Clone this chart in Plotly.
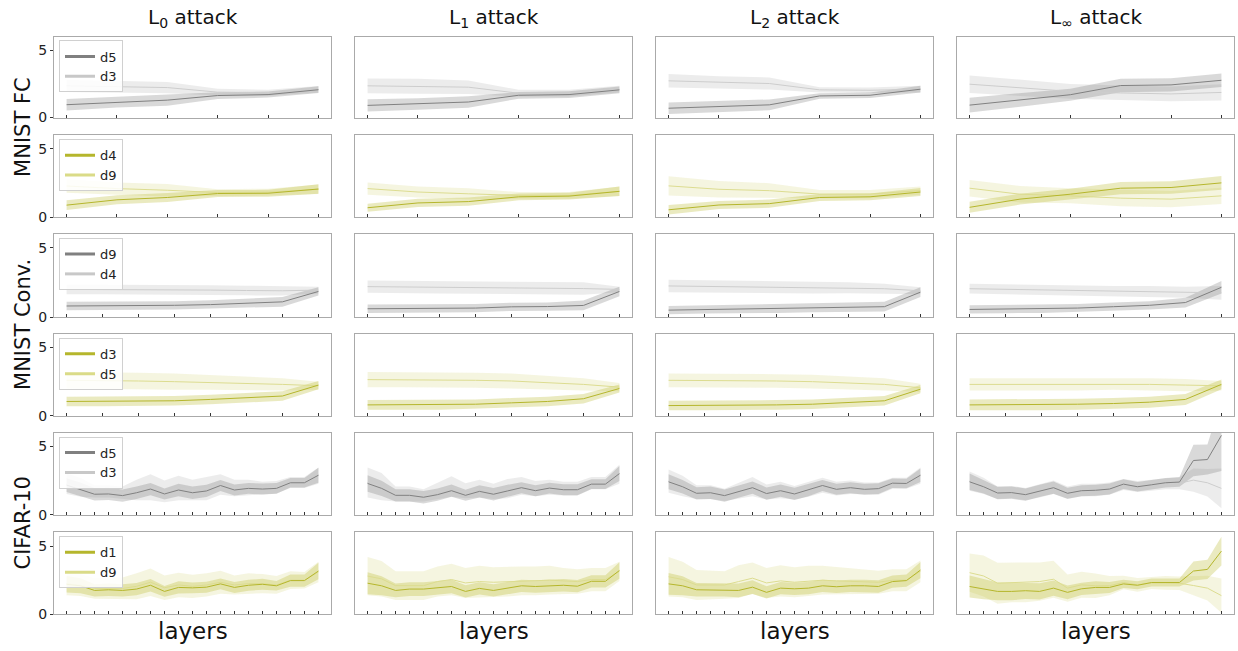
import plotly.graph_objects as go
from plotly.subplots import make_subplots

# ---------------- labels ----------------
ATTACKS = ["L<sub>0</sub> attack", "L<sub>1</sub> attack", "L<sub>2</sub> attack", "L<sub>∞</sub> attack"]
DATASETS = ["MNIST FC", "MNIST Conv.", "CIFAR-10"]
SERIES_NAMES = [("d5", "d3"), ("d4", "d9"), ("d9", "d4"), ("d3", "d5"), ("d5", "d3"), ("d1", "d9")]
N_LAYERS = [6, 6, 8, 8, 19, 19]
Y_TICKS = [0, 5]

# ---------------- row 1 : MNIST FC (d5 / d3) ----------------
R1_L0_A = [0.95, 1.14, 1.29, 1.63, 1.70, 2.06]
R1_L0_A_ERR = [0.42, 0.40, 0.42, 0.25, 0.22, 0.25]
R1_L0_B = [2.35, 2.28, 2.22, 1.88, 1.84, 2.08]
R1_L0_B_ERR = [0.45, 0.45, 0.42, 0.25, 0.22, 0.25]
R1_L1_A = [0.90, 1.00, 1.15, 1.65, 1.70, 2.05]
R1_L1_A_ERR = [0.45, 0.42, 0.42, 0.25, 0.25, 0.25]
R1_L1_B = [2.35, 2.32, 2.25, 1.80, 1.80, 2.10]
R1_L1_B_ERR = [0.55, 0.55, 0.50, 0.25, 0.25, 0.25]
R1_L2_A = [0.69, 0.81, 0.94, 1.60, 1.65, 2.10]
R1_L2_A_ERR = [0.43, 0.40, 0.40, 0.20, 0.20, 0.25]
R1_L2_B = [2.72, 2.60, 2.52, 2.05, 2.02, 2.10]
R1_L2_B_ERR = [0.50, 0.45, 0.45, 0.20, 0.20, 0.25]
R1_LI_A = [0.92, 1.31, 1.69, 2.37, 2.42, 2.76]
R1_LI_A_ERR = [0.55, 0.50, 0.45, 0.50, 0.50, 0.50]
R1_LI_B = [2.47, 2.20, 1.94, 1.82, 1.75, 1.86]
R1_LI_B_ERR = [0.65, 0.60, 0.55, 0.55, 0.55, 0.60]

# ---------------- row 2 : MNIST FC (d4 / d9) ----------------
R2_L0_A = [0.89, 1.28, 1.45, 1.74, 1.76, 2.07]
R2_L0_A_ERR = [0.35, 0.33, 0.33, 0.25, 0.25, 0.35]
R2_L0_B = [2.29, 2.10, 1.98, 1.81, 1.84, 2.05]
R2_L0_B_ERR = [0.50, 0.45, 0.45, 0.25, 0.25, 0.35]
R2_L1_A = [0.70, 1.05, 1.15, 1.50, 1.55, 1.90]
R2_L1_A_ERR = [0.30, 0.30, 0.30, 0.25, 0.25, 0.35]
R2_L1_B = [2.10, 1.85, 1.72, 1.60, 1.60, 1.90]
R2_L1_B_ERR = [0.45, 0.40, 0.40, 0.25, 0.25, 0.35]
R2_L2_A = [0.55, 0.90, 1.00, 1.45, 1.50, 1.85]
R2_L2_A_ERR = [0.35, 0.30, 0.30, 0.25, 0.25, 0.30]
R2_L2_B = [2.30, 2.05, 1.95, 1.70, 1.70, 1.95]
R2_L2_B_ERR = [0.70, 0.60, 0.55, 0.30, 0.30, 0.30]
R2_LI_A = [0.73, 1.33, 1.69, 2.13, 2.18, 2.52]
R2_LI_A_ERR = [0.40, 0.40, 0.40, 0.45, 0.45, 0.50]
R2_LI_B = [2.13, 1.69, 1.57, 1.40, 1.33, 1.57]
R2_LI_B_ERR = [0.60, 0.60, 0.55, 0.60, 0.60, 0.60]

# ---------------- row 3 : MNIST Conv. (d9 / d4) ----------------
R3_L0_A = [0.80, 0.80, 0.82, 0.85, 0.90, 1.00, 1.10, 1.85]
R3_L0_A_ERR = [0.30, 0.30, 0.30, 0.30, 0.32, 0.32, 0.35, 0.30]
R3_L0_B = [2.00, 2.00, 1.98, 1.95, 1.95, 1.92, 1.90, 1.95]
R3_L0_B_ERR = [0.35, 0.35, 0.35, 0.35, 0.35, 0.35, 0.35, 0.25]
R3_L1_A = [0.60, 0.63, 0.65, 0.65, 0.74, 0.76, 0.84, 1.85]
R3_L1_A_ERR = [0.30, 0.30, 0.30, 0.30, 0.30, 0.30, 0.35, 0.35]
R3_L1_B = [2.20, 2.18, 2.16, 2.14, 2.12, 2.10, 2.06, 2.00]
R3_L1_B_ERR = [0.45, 0.45, 0.45, 0.45, 0.45, 0.45, 0.45, 0.20]
R3_L2_A = [0.50, 0.55, 0.60, 0.60, 0.65, 0.70, 0.75, 1.80]
R3_L2_A_ERR = [0.30, 0.30, 0.30, 0.30, 0.30, 0.30, 0.35, 0.35]
R3_L2_B = [2.25, 2.22, 2.20, 2.18, 2.15, 2.12, 2.05, 1.90]
R3_L2_B_ERR = [0.45, 0.45, 0.45, 0.45, 0.45, 0.40, 0.35, 0.25]
R3_LI_A = [0.55, 0.58, 0.60, 0.65, 0.75, 0.85, 1.05, 2.15]
R3_LI_A_ERR = [0.30, 0.30, 0.30, 0.30, 0.30, 0.30, 0.35, 0.45]
R3_LI_B = [2.05, 2.00, 1.98, 1.95, 1.90, 1.85, 1.80, 1.75]
R3_LI_B_ERR = [0.35, 0.35, 0.35, 0.35, 0.35, 0.40, 0.40, 0.50]

# ---------------- row 4 : MNIST Conv. (d3 / d5) ----------------
R4_L0_A = [1.05, 1.05, 1.05, 1.10, 1.20, 1.30, 1.45, 2.25]
R4_L0_A_ERR = [0.35, 0.35, 0.35, 0.35, 0.35, 0.35, 0.35, 0.30]
R4_L0_B = [2.60, 2.60, 2.55, 2.50, 2.45, 2.40, 2.30, 2.20]
R4_L0_B_ERR = [0.60, 0.60, 0.60, 0.60, 0.55, 0.50, 0.45, 0.30]
R4_L1_A = [0.80, 0.80, 0.80, 0.85, 0.95, 1.05, 1.25, 2.00]
R4_L1_A_ERR = [0.35, 0.35, 0.35, 0.35, 0.35, 0.35, 0.35, 0.30]
R4_L1_B = [2.65, 2.65, 2.65, 2.60, 2.55, 2.45, 2.30, 2.10]
R4_L1_B_ERR = [0.55, 0.55, 0.55, 0.55, 0.55, 0.50, 0.45, 0.30]
R4_L2_A = [0.75, 0.75, 0.75, 0.80, 0.85, 0.95, 1.10, 1.95]
R4_L2_A_ERR = [0.35, 0.35, 0.35, 0.35, 0.35, 0.35, 0.35, 0.30]
R4_L2_B = [2.60, 2.60, 2.55, 2.55, 2.50, 2.40, 2.30, 2.05]
R4_L2_B_ERR = [0.50, 0.50, 0.50, 0.50, 0.50, 0.45, 0.45, 0.30]
R4_LI_A = [0.80, 0.80, 0.80, 0.85, 0.90, 1.00, 1.20, 2.30]
R4_LI_A_ERR = [0.40, 0.40, 0.40, 0.40, 0.40, 0.40, 0.40, 0.35]
R4_LI_B = [2.30, 2.30, 2.30, 2.30, 2.35, 2.30, 2.25, 2.20]
R4_LI_B_ERR = [0.45, 0.45, 0.45, 0.45, 0.45, 0.45, 0.45, 0.35]

# ---------------- row 5 : CIFAR-10 (d5 / d3) ----------------
R5_L0_A = [2.16, 1.85, 1.49, 1.51, 1.39, 1.60, 1.87, 1.51, 1.80, 1.60, 1.73, 2.13, 1.80, 1.92, 1.87, 1.92, 2.33, 2.33, 2.88]
R5_L0_A_ERR = [0.50, 0.50, 0.45, 0.45, 0.45, 0.45, 0.45, 0.40, 0.45, 0.45, 0.45, 0.40, 0.40, 0.40, 0.40, 0.40, 0.35, 0.35, 0.55]
R5_L0_B = [2.25, 2.00, 1.70, 1.70, 1.60, 1.80, 2.00, 1.70, 1.95, 1.80, 1.90, 2.20, 1.95, 2.00, 1.95, 2.00, 2.35, 2.35, 2.85]
R5_L0_B_ERR = [0.75, 0.70, 0.45, 0.45, 0.45, 0.75, 0.95, 0.80, 0.90, 0.75, 0.85, 0.75, 0.60, 0.55, 0.45, 0.45, 0.40, 0.40, 0.60]
R5_L1_A = [2.28, 1.92, 1.41, 1.41, 1.27, 1.46, 1.75, 1.41, 1.70, 1.49, 1.73, 1.97, 1.75, 1.94, 1.82, 1.82, 2.23, 2.23, 3.00]
R5_L1_A_ERR = [0.60, 0.55, 0.45, 0.45, 0.45, 0.45, 0.45, 0.40, 0.45, 0.45, 0.45, 0.40, 0.40, 0.40, 0.40, 0.40, 0.35, 0.35, 0.55]
R5_L1_B = [2.35, 2.05, 1.50, 1.50, 1.40, 1.70, 2.05, 1.75, 1.90, 1.70, 1.90, 2.10, 1.90, 2.00, 1.90, 1.90, 2.30, 2.30, 2.95]
R5_L1_B_ERR = [1.10, 1.00, 0.55, 0.55, 0.45, 0.60, 0.75, 0.55, 0.65, 0.55, 0.70, 0.65, 0.55, 0.55, 0.50, 0.50, 0.45, 0.45, 0.70]
R5_L2_A = [2.40, 2.04, 1.56, 1.60, 1.39, 1.68, 1.97, 1.54, 1.75, 1.51, 1.80, 2.13, 1.85, 1.97, 1.85, 1.90, 2.30, 2.28, 2.88]
R5_L2_A_ERR = [0.55, 0.50, 0.45, 0.45, 0.45, 0.45, 0.45, 0.45, 0.45, 0.45, 0.45, 0.40, 0.40, 0.40, 0.40, 0.40, 0.35, 0.35, 0.50]
R5_L2_B = [2.45, 2.10, 1.65, 1.65, 1.45, 1.75, 2.05, 1.65, 1.80, 1.60, 1.85, 2.15, 1.90, 2.00, 1.90, 1.90, 2.30, 2.30, 2.85]
R5_L2_B_ERR = [0.85, 0.75, 0.50, 0.50, 0.45, 0.60, 0.70, 0.55, 0.60, 0.50, 0.55, 0.55, 0.50, 0.50, 0.45, 0.45, 0.40, 0.40, 0.60]
R5_LI_A = [2.40, 2.04, 1.58, 1.61, 1.46, 1.73, 1.97, 1.56, 1.75, 1.78, 1.87, 2.23, 2.04, 2.18, 2.33, 2.38, 3.96, 4.03, 5.80]
R5_LI_A_ERR = [0.60, 0.50, 0.45, 0.45, 0.45, 0.45, 0.45, 0.40, 0.40, 0.40, 0.40, 0.35, 0.35, 0.35, 0.35, 0.35, 1.15, 1.10, 2.60]
R5_LI_B = [2.45, 2.10, 1.60, 1.65, 1.50, 1.75, 2.00, 1.60, 1.80, 1.80, 1.90, 2.20, 2.05, 2.15, 2.25, 2.30, 2.52, 2.33, 1.92]
R5_LI_B_ERR = [0.70, 0.60, 0.45, 0.45, 0.45, 0.50, 0.50, 0.45, 0.45, 0.45, 0.45, 0.40, 0.40, 0.40, 0.40, 0.45, 0.85, 1.00, 1.45]

# ---------------- row 6 : CIFAR-10 (d1 / d9) ----------------
R6_L0_A = [2.20, 2.09, 1.75, 1.80, 1.75, 1.85, 2.13, 1.68, 1.97, 1.94, 1.99, 2.23, 1.97, 2.13, 2.20, 2.09, 2.47, 2.47, 3.17]
R6_L0_A_ERR = [0.60, 0.55, 0.45, 0.45, 0.45, 0.45, 0.45, 0.40, 0.45, 0.40, 0.40, 0.40, 0.40, 0.40, 0.40, 0.35, 0.45, 0.45, 0.60]
R6_L0_B = [2.25, 2.15, 1.90, 1.90, 1.90, 2.05, 2.35, 1.95, 2.15, 2.05, 2.15, 2.35, 2.15, 2.25, 2.25, 2.15, 2.50, 2.50, 3.10]
R6_L0_B_ERR = [0.85, 0.80, 0.75, 0.75, 0.80, 0.95, 1.00, 0.90, 0.90, 0.85, 0.85, 0.85, 0.70, 0.75, 0.70, 0.65, 0.65, 0.60, 0.75]
R6_L1_A = [2.28, 2.09, 1.75, 1.85, 1.85, 1.92, 2.04, 1.68, 1.90, 1.75, 1.90, 2.09, 2.04, 2.11, 2.13, 2.06, 2.42, 2.42, 3.21]
R6_L1_A_ERR = [0.80, 0.70, 0.50, 0.50, 0.50, 0.50, 0.50, 0.45, 0.45, 0.45, 0.45, 0.45, 0.45, 0.45, 0.45, 0.45, 0.45, 0.45, 0.60]
R6_L1_B = [2.80, 2.60, 2.10, 2.10, 2.10, 2.40, 2.55, 2.30, 2.40, 2.35, 2.40, 2.45, 2.45, 2.50, 2.45, 2.40, 2.55, 2.55, 3.15]
R6_L1_B_ERR = [1.40, 1.30, 1.05, 1.05, 1.05, 1.10, 1.15, 1.10, 1.15, 1.10, 1.10, 1.05, 1.05, 1.05, 0.95, 0.90, 0.85, 0.85, 0.70]
R6_L2_A = [2.23, 2.09, 1.80, 1.80, 1.80, 1.75, 1.99, 1.61, 1.92, 1.87, 1.92, 2.09, 2.02, 2.09, 2.09, 2.04, 2.40, 2.47, 3.24]
R6_L2_A_ERR = [0.80, 0.70, 0.50, 0.50, 0.50, 0.50, 0.50, 0.45, 0.45, 0.45, 0.45, 0.45, 0.45, 0.45, 0.45, 0.45, 0.45, 0.45, 0.60]
R6_L2_B = [2.75, 2.55, 2.15, 2.15, 2.15, 2.40, 2.65, 2.30, 2.45, 2.35, 2.45, 2.50, 2.45, 2.40, 2.40, 2.35, 2.50, 2.50, 3.15]
R6_L2_B_ERR = [1.45, 1.30, 1.10, 1.05, 1.00, 1.20, 1.15, 1.10, 1.15, 1.10, 1.10, 1.05, 1.00, 0.95, 0.90, 0.85, 0.80, 0.80, 0.80]
R6_LI_A = [2.04, 1.85, 1.68, 1.68, 1.73, 1.68, 1.92, 1.61, 1.87, 1.97, 1.97, 2.23, 2.13, 2.33, 2.33, 2.33, 3.17, 3.29, 4.63]
R6_LI_A_ERR = [0.80, 0.75, 0.65, 0.65, 0.60, 0.60, 0.55, 0.50, 0.45, 0.45, 0.40, 0.30, 0.30, 0.30, 0.30, 0.30, 0.70, 0.70, 1.05]
R6_LI_B = [3.05, 2.81, 2.28, 2.33, 2.33, 2.40, 2.57, 1.92, 2.16, 2.09, 2.10, 2.33, 2.16, 2.30, 2.30, 2.28, 2.11, 1.92, 1.37]
R6_LI_B_ERR = [1.40, 1.50, 1.50, 1.45, 1.45, 1.40, 1.35, 1.00, 0.95, 0.90, 0.70, 0.50, 0.50, 0.45, 0.50, 0.50, 0.70, 0.90, 1.25]

PANELS = [
    [(R1_L0_A, R1_L0_A_ERR, R1_L0_B, R1_L0_B_ERR), (R1_L1_A, R1_L1_A_ERR, R1_L1_B, R1_L1_B_ERR),
     (R1_L2_A, R1_L2_A_ERR, R1_L2_B, R1_L2_B_ERR), (R1_LI_A, R1_LI_A_ERR, R1_LI_B, R1_LI_B_ERR)],
    [(R2_L0_A, R2_L0_A_ERR, R2_L0_B, R2_L0_B_ERR), (R2_L1_A, R2_L1_A_ERR, R2_L1_B, R2_L1_B_ERR),
     (R2_L2_A, R2_L2_A_ERR, R2_L2_B, R2_L2_B_ERR), (R2_LI_A, R2_LI_A_ERR, R2_LI_B, R2_LI_B_ERR)],
    [(R3_L0_A, R3_L0_A_ERR, R3_L0_B, R3_L0_B_ERR), (R3_L1_A, R3_L1_A_ERR, R3_L1_B, R3_L1_B_ERR),
     (R3_L2_A, R3_L2_A_ERR, R3_L2_B, R3_L2_B_ERR), (R3_LI_A, R3_LI_A_ERR, R3_LI_B, R3_LI_B_ERR)],
    [(R4_L0_A, R4_L0_A_ERR, R4_L0_B, R4_L0_B_ERR), (R4_L1_A, R4_L1_A_ERR, R4_L1_B, R4_L1_B_ERR),
     (R4_L2_A, R4_L2_A_ERR, R4_L2_B, R4_L2_B_ERR), (R4_LI_A, R4_LI_A_ERR, R4_LI_B, R4_LI_B_ERR)],
    [(R5_L0_A, R5_L0_A_ERR, R5_L0_B, R5_L0_B_ERR), (R5_L1_A, R5_L1_A_ERR, R5_L1_B, R5_L1_B_ERR),
     (R5_L2_A, R5_L2_A_ERR, R5_L2_B, R5_L2_B_ERR), (R5_LI_A, R5_LI_A_ERR, R5_LI_B, R5_LI_B_ERR)],
    [(R6_L0_A, R6_L0_A_ERR, R6_L0_B, R6_L0_B_ERR), (R6_L1_A, R6_L1_A_ERR, R6_L1_B, R6_L1_B_ERR),
     (R6_L2_A, R6_L2_A_ERR, R6_L2_B, R6_L2_B_ERR), (R6_LI_A, R6_LI_A_ERR, R6_LI_B, R6_LI_B_ERR)],
]

# ---------------- styles ----------------
GRAY = dict(
    a_line="#808080", b_line="#cdcdcd",
    a_fill="rgba(128,128,128,0.30)", b_fill="rgba(128,128,128,0.15)",
    a_leg="#808080", b_leg="#c8c8c8",
)
OLIVE = dict(
    a_line="#b5b62c", b_line="#dcdc90",
    a_fill="rgba(185,186,45,0.30)", b_fill="rgba(185,186,45,0.15)",
    a_leg="#b5b62c", b_leg="#dadb88",
)
ROW_STYLE = [GRAY, OLIVE, GRAY, OLIVE, GRAY, OLIVE]

W, H = 1238, 651
COL_PX = [(54, 331), (355, 632), (656, 933), (957, 1234)]
ROW_PX = [(37, 119), (137, 220), (237, 321), (338, 421), (438, 521), (539, 622)]
FONT = "DejaVu Sans"

fig = make_subplots(rows=6, cols=4)


def band(xs, mean, err):
    up = [m + e for m, e in zip(mean, err)]
    lo = [m - e for m, e in zip(mean, err)]
    return xs + xs[::-1], up + lo[::-1]


for r in range(6):
    st = ROW_STYLE[r]
    n = N_LAYERS[r]
    xs = list(range(n))
    for c in range(4):
        a, a_err, b, b_err = PANELS[r][c]
        bx, by = band(xs, a, a_err)
        fig.add_trace(go.Scatter(x=bx, y=by, fill="toself", fillcolor=st["a_fill"], mode="lines",
                                 line=dict(width=0), hoverinfo="skip", showlegend=False), row=r + 1, col=c + 1)
        bx, by = band(xs, b, b_err)
        fig.add_trace(go.Scatter(x=bx, y=by, fill="toself", fillcolor=st["b_fill"], mode="lines",
                                 line=dict(width=0), hoverinfo="skip", showlegend=False), row=r + 1, col=c + 1)
        fig.add_trace(go.Scatter(x=xs, y=b, mode="lines", line=dict(color=st["b_line"], width=1),
                                 showlegend=False), row=r + 1, col=c + 1)
        fig.add_trace(go.Scatter(x=xs, y=a, mode="lines", line=dict(color=st["a_line"], width=1),
                                 showlegend=False), row=r + 1, col=c + 1)
    # legend entries (first column only)
    lname = "legend" if r == 0 else f"legend{r + 1}"
    fig.add_trace(go.Scatter(x=[None], y=[None], mode="lines", line=dict(color=st["a_leg"], width=3),
                             name=SERIES_NAMES[r][0], legend=lname, showlegend=True), row=r + 1, col=1)
    fig.add_trace(go.Scatter(x=[None], y=[None], mode="lines", line=dict(color=st["b_leg"], width=3),
                             name=SERIES_NAMES[r][1], legend=lname, showlegend=True), row=r + 1, col=1)
    top = 1 - (ROW_PX[r][0] + 4) / H
    fig.update_layout(**{lname: dict(
        x=(COL_PX[0][0] + 5) / W, y=top, xanchor="left", yanchor="top",
        bgcolor="rgba(255,255,255,0.85)", bordercolor="#d0d0d0", borderwidth=1,
        font=dict(family=FONT, size=13, color="#222"), itemwidth=30,
        tracegroupgap=0,
    )})

    for c in range(4):
        idx = r * 4 + c + 1
        xa = "xaxis" if idx == 1 else f"xaxis{idx}"
        ya = "yaxis" if idx == 1 else f"yaxis{idx}"
        x0, x1 = COL_PX[c]
        y0, y1 = ROW_PX[r]
        fig.layout[xa].update(
            domain=[x0 / W, x1 / W], range=[-0.05 * (n - 1), 1.05 * (n - 1)],
            tickvals=xs, showticklabels=False, ticks="inside", ticklen=3, tickcolor="#333",
            showline=True, linecolor="#aaaaaa", linewidth=1, mirror=True,
            showgrid=False, zeroline=False,
        )
        fig.layout[ya].update(
            domain=[1 - y1 / H, 1 - y0 / H], range=[0, 6],
            tickvals=Y_TICKS, showticklabels=(c == 0), ticks=("outside" if c == 0 else ""),
            ticklen=3, tickcolor="#333",
            tickfont=dict(family=FONT, size=14, color="#222"),
            showline=True, linecolor="#aaaaaa", linewidth=1, mirror=True,
            showgrid=False, zeroline=False,
        )

annotations = []
for c in range(4):
    cx = (COL_PX[c][0] + COL_PX[c][1]) / 2 / W
    annotations.append(dict(text=ATTACKS[c], x=cx, y=1 - 18 / H, xref="paper", yref="paper",
                            showarrow=False, font=dict(family=FONT, size=20, color="#111"),
                            xanchor="center", yanchor="middle"))
    annotations.append(dict(text="layers", x=cx, y=1 - 639 / H, xref="paper", yref="paper",
                            showarrow=False, font=dict(family=FONT, size=23, color="#111"),
                            xanchor="center", yanchor="middle"))
for i, name in enumerate(DATASETS):
    top = ROW_PX[2 * i][0]
    bot = ROW_PX[2 * i + 1][1]
    cy = 1 - (top + bot) / 2 / H
    annotations.append(dict(text=name, x=23 / W, y=cy, xref="paper", yref="paper", textangle=-90,
                            showarrow=False, font=dict(family=FONT, size=21, color="#111"),
                            xanchor="center", yanchor="middle"))

fig.update_layout(
    width=W, height=H, margin=dict(l=0, r=0, t=0, b=0),
    paper_bgcolor="white", plot_bgcolor="white",
    font=dict(family=FONT, color="#222"),
    annotations=annotations,
)

fig.write_html("out.html")
